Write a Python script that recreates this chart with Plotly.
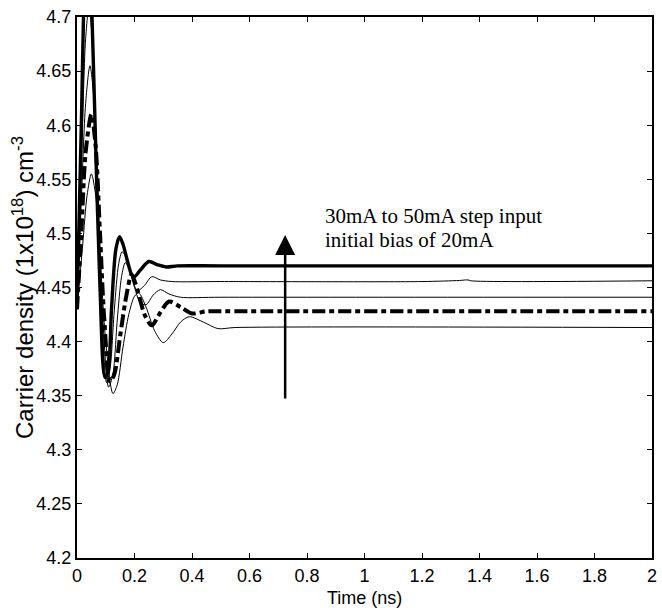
import plotly.graph_objects as go

# ---- data ----
t_50 = [0, 0.015, 0.03, 0.04, 0.05, 0.065, 0.08, 0.097, 0.108, 0.12, 0.135, 0.148, 0.16, 0.175, 0.19, 0.2, 0.22, 0.25, 0.28, 0.31, 0.35, 0.5, 2.0]
n_50 = [4.43, 4.60, 4.76, 4.78, 4.72, 4.58, 4.45, 4.367, 4.372, 4.43, 4.485, 4.497, 4.49, 4.475, 4.462, 4.46, 4.466, 4.474, 4.471, 4.469, 4.470, 4.470, 4.470]

t_45 = [0, 0.015, 0.03, 0.042, 0.055, 0.07, 0.085, 0.103, 0.115, 0.13, 0.145, 0.157, 0.17, 0.19, 0.21, 0.235, 0.26, 0.29, 0.33, 0.5, 1.2, 1.33, 1.36, 1.37, 2.0]
n_45 = [4.43, 4.56, 4.68, 4.71, 4.67, 4.55, 4.43, 4.362, 4.375, 4.43, 4.472, 4.483, 4.478, 4.46, 4.447, 4.452, 4.460, 4.457, 4.4555, 4.4555, 4.4555, 4.4565, 4.457, 4.4562, 4.4562]

t_40 = [0, 0.015, 0.03, 0.045, 0.06, 0.075, 0.09, 0.11, 0.125, 0.14, 0.155, 0.168, 0.18, 0.2, 0.22, 0.24, 0.265, 0.29, 0.32, 0.36, 0.5, 2.0]
n_40 = [4.43, 4.53, 4.62, 4.655, 4.62, 4.52, 4.42, 4.358, 4.37, 4.42, 4.46, 4.473, 4.468, 4.45, 4.436, 4.434, 4.443, 4.448, 4.444, 4.441, 4.441, 4.441]

t_35 = [0, 0.015, 0.03, 0.05, 0.065, 0.08, 0.095, 0.115, 0.13, 0.15, 0.17, 0.19, 0.21, 0.235, 0.26, 0.29, 0.32, 0.36, 0.40, 0.45, 0.5, 2.0]
n_35 = [4.43, 4.50, 4.575, 4.61, 4.58, 4.5, 4.42, 4.363, 4.37, 4.405, 4.44, 4.462, 4.448, 4.425, 4.415, 4.427, 4.437, 4.432, 4.426, 4.428, 4.428, 4.428]

t_30 = [0, 0.02, 0.035, 0.05, 0.065, 0.08, 0.1, 0.125, 0.14, 0.16, 0.18, 0.2, 0.215, 0.24, 0.27, 0.3, 0.33, 0.36, 0.39, 0.44, 0.49, 0.55, 2.0]
n_30 = [4.43, 4.49, 4.535, 4.555, 4.535, 4.48, 4.4, 4.352, 4.36, 4.395, 4.425, 4.442, 4.445, 4.432, 4.41, 4.399, 4.407, 4.418, 4.423, 4.418, 4.412, 4.413, 4.413]

x_ticks = [0, 0.2, 0.4, 0.6, 0.8, 1, 1.2, 1.4, 1.6, 1.8, 2]
x_labels = ["0", "0.2", "0.4", "0.6", "0.8", "1", "1.2", "1.4", "1.6", "1.8", "2"]
y_ticks = [4.2, 4.25, 4.3, 4.35, 4.4, 4.45, 4.5, 4.55, 4.6, 4.65, 4.7]
y_labels = ["4.2", "4.25", "4.3", "4.35", "4.4", "4.45", "4.5", "4.55", "4.6", "4.65", "4.7"]

fig = go.Figure()

def add(t, n, width, dash="solid"):
    fig.add_trace(go.Scatter(x=t, y=n, mode="lines",
                             line=dict(color="black", width=width, dash=dash,
                                       shape="spline", smoothing=0.8),
                             showlegend=False, hoverinfo="skip"))

add(t_30, n_30, 1.0)
add(t_40, n_40, 1.0)
add(t_45, n_45, 1.0)
add(t_35, n_35, 4.0, "13px,4px,5px,4px")
add(t_50, n_50, 3.4)

axis_font = dict(family="Liberation Sans, Arial, sans-serif", size=18, color="black")

fig.update_xaxes(range=[0, 2], tickvals=x_ticks, ticktext=x_labels,
                 ticks="inside", ticklen=5, tickwidth=1, tickcolor="black",
                 showline=True, linecolor="black", linewidth=2, mirror="allticks",
                 showgrid=False, zeroline=False, tickfont=axis_font)
fig.update_yaxes(range=[4.2, 4.7], tickvals=y_ticks, ticktext=y_labels,
                 ticks="inside", ticklen=5, tickwidth=1, tickcolor="black",
                 showline=True, linecolor="black", linewidth=2, mirror="allticks",
                 showgrid=False, zeroline=False, tickfont=axis_font)

fig.update_layout(width=662, height=608, autosize=False,
                  margin=dict(l=77, r=5, t=17, b=50),
                  plot_bgcolor="white", paper_bgcolor="white")

serif = dict(family="Liberation Serif, Times New Roman, serif", size=21, color="black")

fig.add_annotation(x=0.855, y=4.516, xref="x", yref="y", text="30mA to 50mA step input",
                   showarrow=False, xanchor="left", yanchor="middle", font=serif)
fig.add_annotation(x=0.855, y=4.494, xref="x", yref="y", text="initial bias of 20mA",
                   showarrow=False, xanchor="left", yanchor="middle", font=serif)

# upward arrow
fig.add_annotation(x=0.724, y=4.4985, xref="x", yref="y",
                   ax=0.724, ay=4.346, axref="x", ayref="y",
                   text="", showarrow=True, arrowhead=2, arrowsize=1.6,
                   arrowwidth=2.5, arrowcolor="black", standoff=0)

# axis titles
fig.add_annotation(x=(22 - 77) / 580, y=0.5, xref="paper", yref="paper",
                   text="Carrier density (1x10<sup>18</sup>) cm<sup>-3</sup>",
                   textangle=-90, showarrow=False, xanchor="center", yanchor="middle",
                   font=dict(family="Liberation Sans, Arial, sans-serif", size=24, color="black"))
fig.add_annotation(x=0.5, y=-(598 - 558) / 541, xref="paper", yref="paper",
                   text="Time (ns)", showarrow=False, xanchor="center", yanchor="middle",
                   font=dict(family="Liberation Sans, Arial, sans-serif", size=18, color="black"))

fig.write_html("out.html")
